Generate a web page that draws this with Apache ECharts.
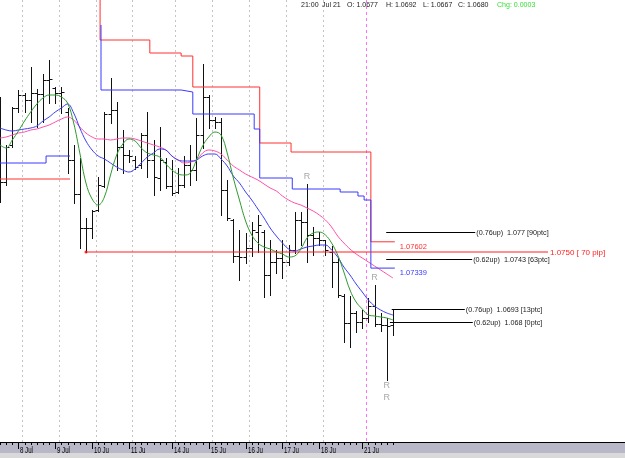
<!DOCTYPE html>
<html><head><meta charset="utf-8">
<script src="https://cdn.jsdelivr.net/npm/echarts@6/dist/echarts.min.js"></script>
<style>html,body{margin:0;padding:0;background:#fff}#c{width:625px;height:458px}</style>
</head><body><div id="c"></div>
<script>
// ---------- DATA ----------
const FIRST_BAR = -3; // bar index of the first bar (8 Jul 00:00 = 0)
const opens  = [1.0852,1.0820,1.0857,1.0894,1.0907,1.0902,1.0909,1.0908,1.0922,1.0914,1.0909,1.0890,1.0842,1.0808,1.0774,1.0774,1.0792,1.0816,1.0888,1.0892,1.0855,1.0847,1.0842,1.0837,1.0867,1.0842,1.0824,1.0840,1.0816,1.0810,1.0817,1.0837,1.0832,1.0867,1.0905,1.0882,1.0880,1.0812,1.0782,1.0746,1.0745,1.0754,1.0770,1.0770,1.0727,1.0740,1.0744,1.0740,1.0752,1.0782,1.0780,1.0767,1.0764,1.0762,1.0750,1.0740,1.0706,1.0679,1.0689,1.0680,1.0684,1.0696,1.0678,1.0677,1.0677];
const highs  = [1.0905,1.0857,1.0895,1.0912,1.0909,1.0935,1.0913,1.0928,1.0942,1.0915,1.0915,1.0894,1.0857,1.0844,1.0784,1.0792,1.0825,1.0890,1.0924,1.0900,1.0872,1.0852,1.0846,1.0869,1.0890,1.0862,1.0875,1.0844,1.0842,1.0834,1.0846,1.0857,1.0884,1.0938,1.0907,1.0885,1.0884,1.0822,1.0783,1.0772,1.0769,1.0780,1.0787,1.0772,1.0762,1.0752,1.0762,1.0757,1.0790,1.0790,1.0818,1.0775,1.0770,1.0762,1.0756,1.0744,1.0708,1.0706,1.0691,1.0692,1.0704,1.0717,1.0689,1.0684,1.0692];
const lows   = [1.0800,1.0817,1.0855,1.0890,1.0890,1.0880,1.0875,1.0880,1.0899,1.0899,1.0889,1.0829,1.0799,1.0754,1.0750,1.0764,1.0791,1.0815,1.0879,1.0832,1.0829,1.0840,1.0833,1.0834,1.0825,1.0807,1.0812,1.0814,1.0807,1.0809,1.0815,1.0817,1.0822,1.0854,1.0874,1.0874,1.0787,1.0782,1.0740,1.0722,1.0739,1.0746,1.0750,1.0705,1.0707,1.0729,1.0724,1.0737,1.0749,1.0757,1.0740,1.0747,1.0757,1.0747,1.0715,1.0705,1.0660,1.0655,1.0670,1.0674,1.0680,1.0676,1.0671,1.0622,1.0667];
const closes = [1.0820,1.0855,1.0894,1.0907,1.0902,1.0909,1.0908,1.0922,1.0923,1.0909,1.0910,1.0842,1.0808,1.0774,1.0774,1.0791,1.0817,1.0888,1.0892,1.0855,1.0847,1.0846,1.0835,1.0867,1.0842,1.0825,1.0842,1.0816,1.0809,1.0817,1.0837,1.0832,1.0867,1.0905,1.0882,1.0880,1.0812,1.0784,1.0746,1.0745,1.0754,1.0772,1.0777,1.0727,1.0740,1.0744,1.0740,1.0752,1.0782,1.0780,1.0767,1.0764,1.0762,1.0752,1.0740,1.0707,1.0679,1.0689,1.0680,1.0684,1.0696,1.0678,1.0677,1.0676,1.0680];

const maFast = [1.0857,1.0854,1.0862,1.0871,1.0881,1.0890,1.0898,1.0904,1.0907,1.0907,1.0905,1.0899,1.0879,1.0849,1.0819,1.0803,1.0797,1.0805,1.0827,1.0847,1.0858,1.0863,1.0861,1.0854,1.0849,1.0847,1.0845,1.0838,1.0832,1.0828,1.0827,1.0829,1.0842,1.0856,1.0865,1.0870,1.0867,1.0849,1.0824,1.0802,1.0781,1.0767,1.0759,1.0755,1.0753,1.0750,1.0748,1.0745,1.0746,1.0753,1.0764,1.0769,1.0770,1.0767,1.0759,1.0747,1.0730,1.0712,1.0700,1.0693,1.0687,1.0686,1.0685,1.0684,1.0682];
const maMid  = [1.0874,1.0872,1.0871,1.0872,1.0873,1.0874,1.0876,1.0881,1.0885,1.0890,1.0894,1.0898,1.0889,1.0874,1.0861,1.0852,1.0846,1.0843,1.0839,1.0835,1.0832,1.0830,1.0833,1.0839,1.0845,1.0849,1.0853,1.0852,1.0846,1.0842,1.0841,1.0841,1.0842,1.0846,1.0848,1.0848,1.0843,1.0836,1.0826,1.0819,1.0810,1.0802,1.0793,1.0784,1.0774,1.0766,1.0759,1.0753,1.0751,1.0753,1.0755,1.0756,1.0757,1.0757,1.0752,1.0745,1.0735,1.0727,1.0718,1.0710,1.0702,1.0696,1.0692,1.0689,1.0687];
const maSlow = [1.0864,1.0865,1.0867,1.0869,1.0870,1.0872,1.0873,1.0875,1.0877,1.0880,1.0883,1.0885,1.0882,1.0875,1.0869,1.0865,1.0863,1.0863,1.0862,1.0863,1.0864,1.0864,1.0863,1.0861,1.0859,1.0857,1.0855,1.0852,1.0846,1.0842,1.0839,1.0840,1.0842,1.0849,1.0852,1.0851,1.0848,1.0842,1.0836,1.0832,1.0828,1.0825,1.0822,1.0818,1.0814,1.0811,1.0806,1.0802,1.0799,1.0797,1.0794,1.0791,1.0787,1.0782,1.0775,1.0766,1.0759,1.0753,1.0748,1.0744,1.0740,1.0736,1.0732,1.0728,1.0724];

const dayLabels   = ['8 Jul','9 Jul','10 Ju','11 Ju','14 Ju','15 Ju','16 Ju','17 Ju','18 Ju','21 Ju'];
const dayStartBar = [0, 6, 12, 18, 25, 31, 37, 43, 49, 56];

// step (stop / resistance) lines: segment start bar, level
const redEarlyStart  = [-3];           const redEarlyLevel  = [1.0823];           const redEarlyEnd = 8.4;
const blueEarlyStart = [-3, 4.5];      const blueEarlyLevel = [1.0839, 1.0846];   const blueEarlyEnd = 8.4;
const redStepStart  = [13.3, 21.4, 26.5, 28.4, 39.3, 44.4, 57.4];
const redStepLevel  = [1.0962, 1.0949, 1.0946, 1.0915, 1.0859, 1.0850, 1.07602];
const redStepTop = 1.1010, redStepEnd = 61.3;
const blueStepStart = [13.45, 26.5, 28.4, 38.4, 39.3, 44.6, 52.4, 55.3, 56.3, 57.4];
const blueStepLevel = [1.0912, 1.0910, 1.0888, 1.0873, 1.0824, 1.0813, 1.0810, 1.0806, 1.0802, 1.07339];
const blueStepTop = 1.0977, blueStepEnd = 61.3;
const redStepLabel = '1.07602', blueStepLabel = '1.07339';

// target level
const targetLevel = 1.0750, targetFromBar = 11, targetToBar = 86.25, targetLabel = '1.0750 [ 70 pip]';

// projection levels
const projLevel = [1.077, 1.0743, 1.0693, 1.068];
const projTag   = ['(0.76up)', '(0.62up)', '(0.76up)', '(0.62up)'];
const projText  = ['1.077 [90ptc]', '1.0743 [63ptc]', '1.0693 [13ptc]', '1.068 [0ptc]'];
const projFrom  = [59.9, 59.9, 60.8, 60.5];
const projTo    = [74.4, 73.9, 72.7, 74.0];

// "R" marks: bar, side
const rMarkBar  = [47, 58, 60, 60];
const rMarkSide = ['high', 'high', 'low', 'low2'];

const header = ['21:00', 'Jul 21', 'O: 1.0677', 'H: 1.0692', 'L: 1.0667', 'C: 1.0680', 'Chg: 0.0003'];

// ---------- CHART ----------
const X_MIN = -3, X_MAX = 98.79, Y_MIN = 1.0560, Y_MAX = 1.1002;
const FONT = '"Liberation Sans", Arial, sans-serif';
const idx = opens.map((_, k) => FIRST_BAR + k);
const pair = (arr) => arr.map((v, k) => [idx[k], v]);

function stepPts(starts, levels, end, top) {
  const pts = [];
  if (top != null) pts.push([starts[0], top]);
  for (let k = 0; k < starts.length; k++) {
    pts.push([starts[k], levels[k]]);
    pts.push([k + 1 < starts.length ? starts[k + 1] : end, levels[k]]);
  }
  return pts;
}

const chart = echarts.init(document.getElementById('c'));
const lineS = (data, color, z, smooth) => ({
  type: 'line', data, smooth: smooth || false, symbol: 'none', z, clip: true, silent: true,
  lineStyle: { color, width: 1 }, animation: false
});

const headerX = [301, 322, 347, 386, 423, 458, 497];

chart.setOption({
  animation: false,
  backgroundColor: '#fff',
  grid: { left: 0, right: 0, top: 0, height: 442 },
  xAxis: { type: 'value', min: X_MIN, max: X_MAX, axisLine: { show: true, onZero: false, lineStyle: { color: '#000', width: 1 } },
           axisTick: { show: false }, axisLabel: { show: false }, splitLine: { show: false } },
  yAxis: { type: 'value', min: Y_MIN, max: Y_MAX, show: false, splitLine: { show: false } },
  graphic: [
    { type: 'rect', left: 0, top: 443, shape: { width: 625, height: 10 }, style: { fill: '#b7b7c7' }, z: 0 },
    { type: 'rect', left: 0, top: 453, shape: { width: 625, height: 5 }, style: { fill: '#d9d9d9' }, z: 0 }
  ].concat(header.map((t, k) => ({
    type: 'text', x: headerX[k], y: 1, scaleX: 0.88, z: 10,
    style: { text: t, fill: k === header.length - 1 ? '#33dd33' : '#222', font: '8px ' + FONT }
  }))),
  series: [
    // day grid lines
    {
      type: 'custom', z: 1, clip: false, silent: true,
      data: dayStartBar.map((b, k) => [b, k === dayStartBar.length - 1 ? 1 : 0]),
      renderItem(params, api) {
        const top = api.coord([api.value(0), Y_MAX]);
        const bot = api.coord([api.value(0), Y_MIN]);
        const x = Math.round(top[0] + 3.5) + 0.5;
        const cur = api.value(1) === 1;
        return { type: 'line', shape: { x1: x, y1: 0, x2: x, y2: bot[1] },
                 style: { stroke: cur ? '#ff70ff' : '#c4c4c4', lineWidth: 1, lineDash: cur ? [3, 3] : [2, 3] } };
      }
    },
    // axis ticks + day labels
    {
      type: 'custom', z: 6, clip: false, silent: true,
      data: idx.map(i => [i, dayStartBar.indexOf(i)]),
      renderItem(params, api) {
        const i = api.value(0), d = api.value(1);
        const p = api.coord([i, Y_MIN]);
        const x = Math.round(p[0]) + 0.5, y = Math.round(p[1]);
        const ch = [{ type: 'line', shape: { x1: x, y1: y, x2: x, y2: y + (d >= 0 ? 7 : 3) }, style: { stroke: '#000', lineWidth: 1 } }];
        if (d >= 0) ch.push({ type: 'text', x: x + 1.5, y: y + 8.5, scaleX: 0.72,
          style: { text: dayLabels[d], fill: '#000', font: '8.5px ' + FONT, align: 'left', verticalAlign: 'middle' } });
        return { type: 'group', children: ch };
      }
    },
    // OHLC bars
    {
      type: 'custom', z: 3, silent: true,
      data: idx.map((i, k) => [i, opens[k], highs[k], lows[k], closes[k]]),
      renderItem(params, api) {
        const i = api.value(0);
        const pO = api.coord([i, api.value(1)]), pH = api.coord([i, api.value(2)]);
        const pL = api.coord([i, api.value(3)]), pC = api.coord([i, api.value(4)]);
        const x = Math.round(pH[0]) + 0.5;
        const st = { stroke: '#111', lineWidth: 1 };
        const yo = Math.round(pO[1]) + 0.5, yc = Math.round(pC[1]) + 0.5;
        return { type: 'group', children: [
          { type: 'line', shape: { x1: x, y1: Math.round(pH[1]), x2: x, y2: Math.round(pL[1]) + 1 }, style: st },
          { type: 'line', shape: { x1: x - 3, y1: yo, x2: x, y2: yo }, style: st },
          { type: 'line', shape: { x1: x, y1: yc, x2: x + 3, y2: yc }, style: st }
        ] };
      }
    },
    lineS(pair(maSlow), '#ff4fa8', 4, 0.4),
    lineS(pair(maMid), '#3d3df2', 4, 0.4),
    lineS(pair(maFast), '#2e9a2e', 4, 0.4),
    lineS(stepPts(redEarlyStart, redEarlyLevel, redEarlyEnd), '#ff3030', 4),
    lineS(stepPts(blueEarlyStart, blueEarlyLevel, blueEarlyEnd), '#3a3aff', 4),
    lineS(stepPts(redStepStart, redStepLevel, redStepEnd, redStepTop), '#ff3030', 4),
    lineS(stepPts(blueStepStart, blueStepLevel, blueStepEnd, blueStepTop), '#3a3aff', 4),
    // target line
    {
      type: 'line', z: 5, silent: true, clip: false,
      data: [[targetFromBar, targetLevel], [targetToBar, targetLevel]],
      symbol: 'none', lineStyle: { color: '#ff2020', width: 1 }
    },
    {
      type: 'scatter', z: 6, silent: true, symbolSize: 3, itemStyle: { color: '#ff0000' },
      data: [[targetFromBar, targetLevel]]
    },
    // projection lines + texts
    {
      type: 'custom', z: 5, clip: false, silent: true,
      data: projLevel.map((v, k) => [projFrom[k], projTo[k], v, k]),
      renderItem(params, api) {
        const a = api.coord([api.value(0), api.value(2)]);
        const b = api.coord([api.value(1), api.value(2)]);
        const k = api.value(3);
        const y = Math.round(a[1]) + 0.5;
        return { type: 'group', children: [
          { type: 'line', shape: { x1: a[0], y1: y, x2: b[0], y2: y }, style: { stroke: '#000', lineWidth: 1 } },
          { type: 'text', x: b[0] + 1, y: y, scaleX: 0.9, style: { text: projTag[k] + '  ' + projText[k], fill: '#222', font: '8px ' + FONT, verticalAlign: 'middle' } }
        ] };
      }
    },
    // other level labels
    {
      type: 'custom', z: 5, clip: false, silent: true,
      data: [[targetToBar, targetLevel, 0], [redStepEnd, redStepLevel[redStepLevel.length - 1], 1], [blueStepEnd, blueStepLevel[blueStepLevel.length - 1], 2]],
      renderItem(params, api) {
        const p = api.coord([api.value(0), api.value(1)]);
        const k = api.value(2);
        if (k === 0) return { type: 'text', x: p[0] + 2, y: p[1] + 0.5, style: { text: targetLabel, fill: '#ff2020', font: '8px ' + FONT, verticalAlign: 'middle' } };
        return { type: 'text', x: p[0] + 5, y: p[1] + 5, style: { text: k === 1 ? redStepLabel : blueStepLabel, fill: k === 1 ? '#ff3030' : '#3a3aff', font: '7.5px ' + FONT, verticalAlign: 'middle' } };
      }
    },
    // R marks
    {
      type: 'custom', z: 5, clip: false, silent: true,
      data: rMarkBar.map((b, k) => [b, highs[b - FIRST_BAR], lows[b - FIRST_BAR], k]),
      renderItem(params, api) {
        const k = api.value(3), side = rMarkSide[k];
        const p = api.coord([api.value(0), side === 'high' ? api.value(1) : api.value(2)]);
        const dy = side === 'high' ? -7 : (side === 'low' ? 6 : 18);
        return { type: 'text', x: p[0], y: p[1] + dy, style: { text: 'R', fill: '#a8a8a8', font: '9px ' + FONT, align: 'center', verticalAlign: 'middle' } };
      }
    }
  ]
});
</script>
</body></html>
